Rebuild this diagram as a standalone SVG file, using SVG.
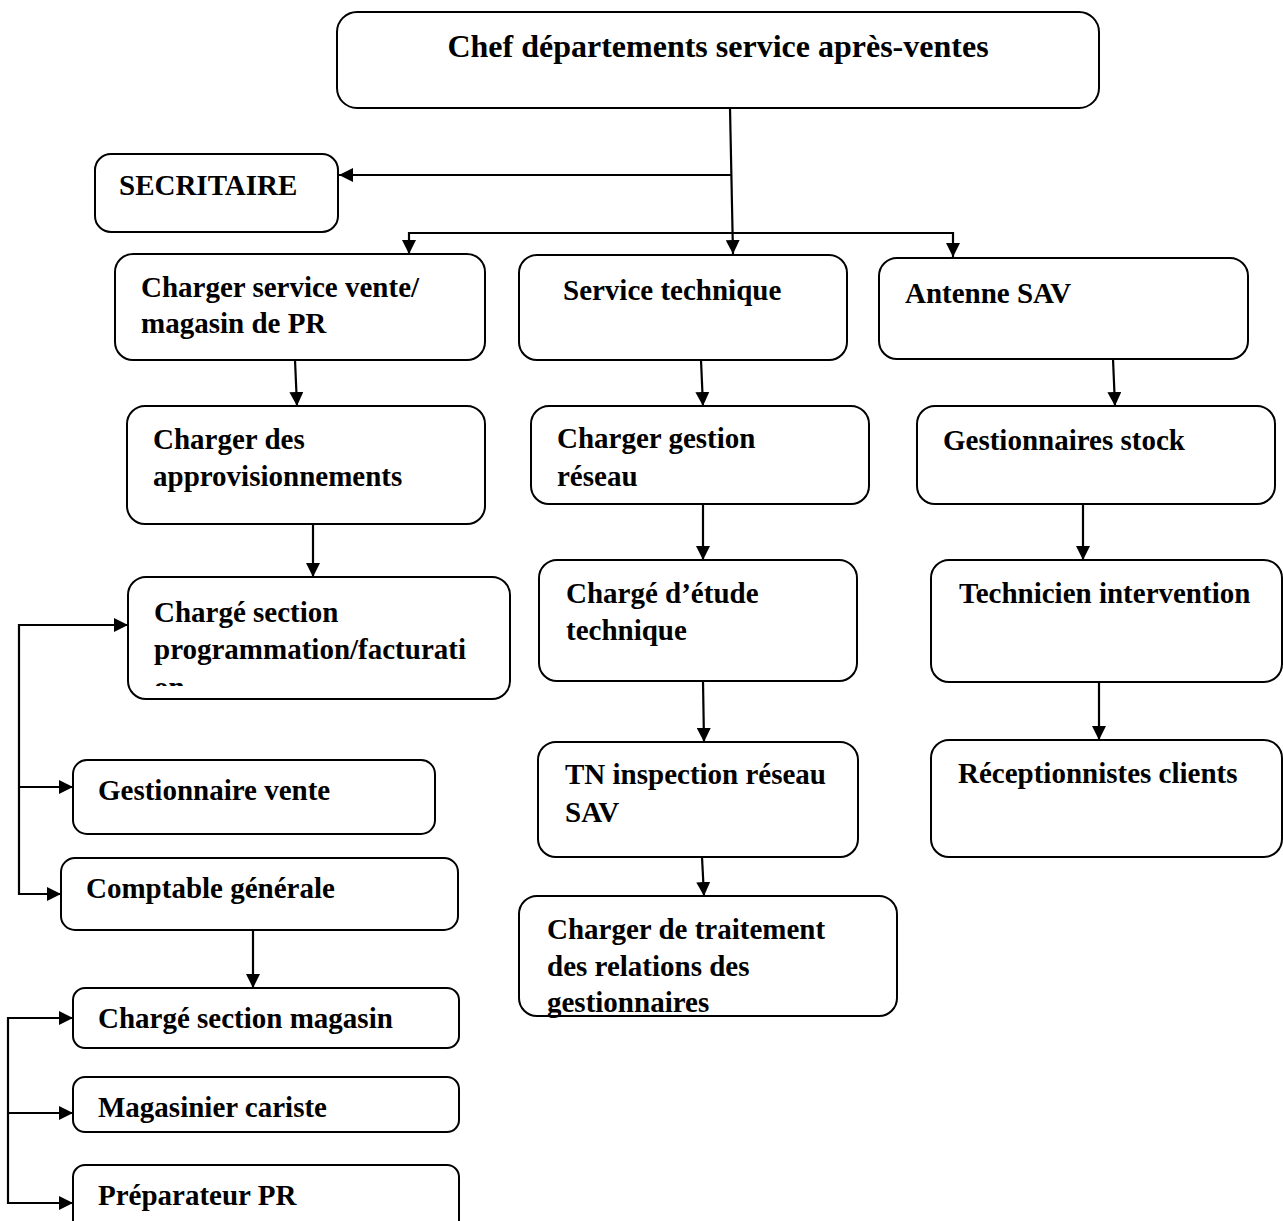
<svg xmlns="http://www.w3.org/2000/svg" width="1283" height="1221" viewBox="0 0 1283 1221">
<style>
.box{fill:#fff;stroke:#000;stroke-width:2}
.t{font-family:"Liberation Serif","Times New Roman",serif;font-weight:bold;font-size:29px;fill:#000}
.title{font-size:32px}
.c{fill:none;stroke:#000;stroke-width:2.2}
</style>
<defs>
<marker id="ah" markerUnits="userSpaceOnUse" markerWidth="14" markerHeight="14" viewBox="0 0 14 14" refX="14" refY="7" orient="auto">
<path d="M0,0 L14,7 L0,14 Z" fill="#000"/>
</marker>
<clipPath id="clipProg"><rect x="128" y="577" width="382" height="109"/></clipPath>
</defs>
<rect width="1283" height="1221" fill="#fff"/>

<g id="connectors">
<path class="c" d="M730,108 L733,254" marker-end="url(#ah)"/>
<path class="c" d="M731,175 L339,175" marker-end="url(#ah)"/>
<path class="c" d="M409,233 L953,233"/>
<path class="c" d="M409,232 L409,254" marker-end="url(#ah)"/>
<path class="c" d="M953,232 L953,257" marker-end="url(#ah)"/>
<path class="c" d="M295,360 L297,406" marker-end="url(#ah)"/>
<path class="c" d="M313,524 L313,577" marker-end="url(#ah)"/>
<path class="c" d="M701,360 L703,406" marker-end="url(#ah)"/>
<path class="c" d="M703,504 L703,560" marker-end="url(#ah)"/>
<path class="c" d="M703,681 L704,742" marker-end="url(#ah)"/>
<path class="c" d="M702,857 L704,896" marker-end="url(#ah)"/>
<path class="c" d="M1113,359 L1115,406" marker-end="url(#ah)"/>
<path class="c" d="M1083,504 L1083,560" marker-end="url(#ah)"/>
<path class="c" d="M1099,682 L1099,740" marker-end="url(#ah)"/>
<path class="c" d="M19,624 L19,895"/>
<path class="c" d="M18,625 L128,625" marker-end="url(#ah)"/>
<path class="c" d="M18,787 L73,787" marker-end="url(#ah)"/>
<path class="c" d="M18,894 L61,894" marker-end="url(#ah)"/>
<path class="c" d="M253,930 L253,988" marker-end="url(#ah)"/>
<path class="c" d="M8,1017 L8,1204"/>
<path class="c" d="M7,1018 L73,1018" marker-end="url(#ah)"/>
<path class="c" d="M7,1113 L73,1113" marker-end="url(#ah)"/>
<path class="c" d="M7,1203 L73,1203" marker-end="url(#ah)"/>
</g>

<g id="n-chef">
<rect class="box" x="337" y="12" width="762" height="96" rx="20"/>
<text class="t title" x="718" y="57" text-anchor="middle">Chef départements service après-ventes</text>
</g>
<g id="n-secritaire">
<rect class="box" x="95" y="154" width="243" height="78" rx="16"/>
<text class="t" x="119" y="195">SECRITAIRE</text>
</g>
<g id="n-vente">
<rect class="box" x="115" y="254" width="370" height="106" rx="18"/>
<text class="t" x="141" y="297">Charger service vente/</text>
<text class="t" x="141" y="333">magasin de PR</text>
</g>
<g id="n-technique">
<rect class="box" x="519" y="255" width="328" height="105" rx="18"/>
<text class="t" x="563" y="300">Service technique</text>
</g>
<g id="n-antenne">
<rect class="box" x="879" y="258" width="369" height="101" rx="18"/>
<text class="t" x="905" y="303">Antenne SAV</text>
</g>
<g id="n-appro">
<rect class="box" x="127" y="406" width="358" height="118" rx="18"/>
<text class="t" x="153" y="449">Charger des</text>
<text class="t" x="153" y="486">approvisionnements</text>
</g>
<g id="n-reseau">
<rect class="box" x="531" y="406" width="338" height="98" rx="18"/>
<text class="t" x="557" y="448">Charger gestion</text>
<text class="t" x="557" y="486">réseau</text>
</g>
<g id="n-stock">
<rect class="box" x="917" y="406" width="358" height="98" rx="18"/>
<text class="t" x="943" y="450">Gestionnaires stock</text>
</g>
<g id="n-prog">
<rect class="box" x="128" y="577" width="382" height="122" rx="18"/>
<g clip-path="url(#clipProg)">
<text class="t" x="154" y="622">Chargé section</text>
<text class="t" x="154" y="659">programmation/facturati</text>
<text class="t" x="154" y="697">on</text>
</g>
</g>
<g id="n-etude">
<rect class="box" x="539" y="560" width="318" height="121" rx="18"/>
<text class="t" x="566" y="603">Chargé d’étude</text>
<text class="t" x="566" y="640">technique</text>
</g>
<g id="n-technicien">
<rect class="box" x="931" y="560" width="351" height="122" rx="18"/>
<text class="t" x="959" y="603">Technicien intervention</text>
</g>
<g id="n-tn">
<rect class="box" x="538" y="742" width="320" height="115" rx="18"/>
<text class="t" x="565" y="784">TN inspection réseau</text>
<text class="t" x="565" y="822">SAV</text>
</g>
<g id="n-reception">
<rect class="box" x="931" y="740" width="351" height="117" rx="18"/>
<text class="t" x="958" y="783">Réceptionnistes clients</text>
</g>
<g id="n-gestvente">
<rect class="box" x="73" y="760" width="362" height="74" rx="14"/>
<text class="t" x="98" y="800">Gestionnaire vente</text>
</g>
<g id="n-comptable">
<rect class="box" x="61" y="858" width="397" height="72" rx="14"/>
<text class="t" x="86" y="898">Comptable générale</text>
</g>
<g id="n-traitement">
<rect class="box" x="519" y="896" width="378" height="120" rx="18"/>
<text class="t" x="547" y="939">Charger de traitement</text>
<text class="t" x="547" y="976">des relations des</text>
<text class="t" x="547" y="1012">gestionnaires</text>
</g>
<g id="n-magasin">
<rect class="box" x="73" y="988" width="386" height="60" rx="12"/>
<text class="t" x="98" y="1028">Chargé section magasin</text>
</g>
<g id="n-cariste">
<rect class="box" x="73" y="1077" width="386" height="55" rx="12"/>
<text class="t" x="98" y="1117">Magasinier cariste</text>
</g>
<g id="n-preparateur">
<rect class="box" x="73" y="1165" width="386" height="70" rx="12"/>
<text class="t" x="98" y="1205">Préparateur PR</text>
</g>
</svg>
